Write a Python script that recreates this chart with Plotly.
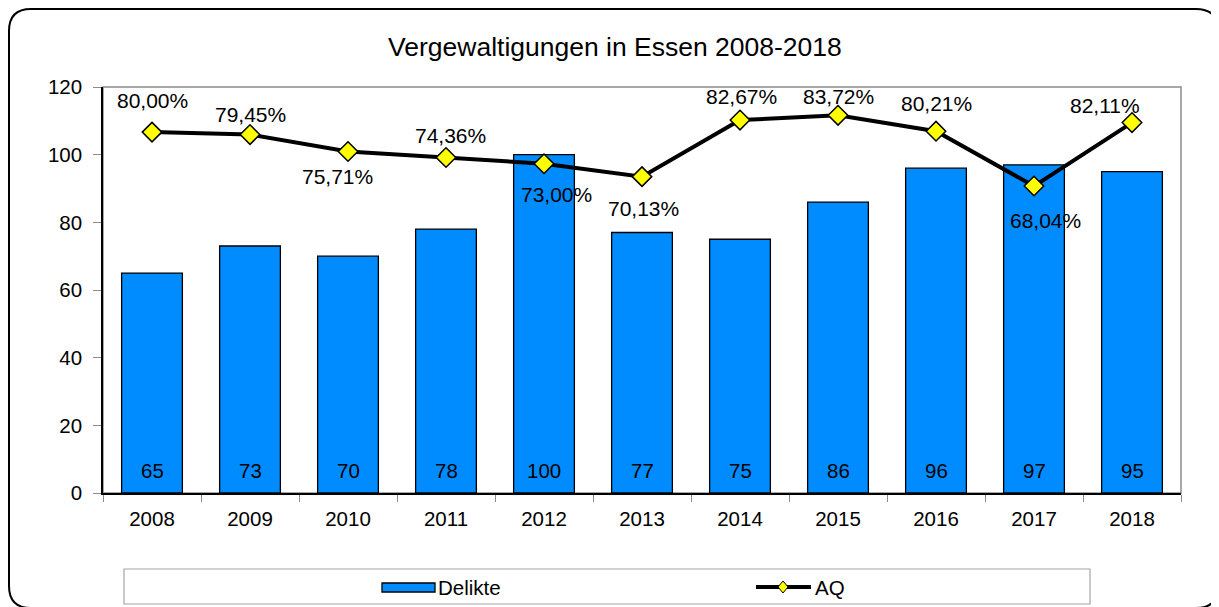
import plotly.graph_objects as go

years = ["2008", "2009", "2010", "2011", "2012", "2013", "2014", "2015", "2016", "2017", "2018"]
delikte = [65, 73, 70, 78, 100, 77, 75, 86, 96, 97, 95]
aq = [80.00, 79.45, 75.71, 74.36, 73.00, 70.13, 82.67, 83.72, 80.21, 68.04, 82.11]

# label placement (pixels) for the AQ labels, as in the reference
aq_label_yshift = [32, 20, -25, 22, -31, -32, 24, 19, 28, -34, 17]
aq_label_xshift = [0, 0, -11, 4, 12, 1, 1, 0, 0, 11, -27]

W, H = 1219, 607
OFF = 8  # page body margin of the rendered page
L, R, T, B = 103, 1181, 87, 493  # plot area in screenshot pixels
FONT = "Liberation Sans, Arial, sans-serif"
BLUE = "#008CFF"


def px(x):
    return (x - L) / (R - L)


def py(y):
    return (B - y) / (B - T)


fig = go.Figure()
fig.add_trace(go.Bar(
    x=years, y=delikte, name="Delikte", width=0.62,
    marker=dict(color=BLUE, line=dict(color="black", width=1.3)),
    showlegend=False,
))
fig.add_trace(go.Scatter(
    x=years, y=aq, name="AQ", yaxis="y2", mode="lines+markers",
    line=dict(color="black", width=4),
    marker=dict(symbol="diamond", size=15, color="#FFFF00", line=dict(color="black", width=1.5)),
    showlegend=False,
))

annotations = []
for i, v in enumerate(delikte):
    annotations.append(dict(x=i, y=0, xref="x", yref="y", text=str(v), showarrow=False,
                            yanchor="middle", yshift=23, font=dict(size=20.5, color="black", family=FONT)))
for i, v in enumerate(aq):
    annotations.append(dict(x=i, y=v, xref="x", yref="y2", text=f"{v:.2f}%".replace(".", ","),
                            showarrow=False, yanchor="middle",
                            yshift=aq_label_yshift[i], xshift=aq_label_xshift[i],
                            font=dict(size=21, color="black", family=FONT)))
# title
annotations.append(dict(x=px(614.5), y=py(47), xref="paper", yref="paper",
                        text="Vergewaltigungen in Essen 2008-2018",
                        showarrow=False, xanchor="center", yanchor="middle",
                        font=dict(size=26.5, color="black", family=FONT)))
# legend texts
annotations.append(dict(x=px(436), y=py(587), xref="paper", yref="paper", text="Delikte", showarrow=False,
                        xanchor="left", yanchor="middle", font=dict(size=20.5, color="black", family=FONT)))
annotations.append(dict(x=px(813), y=py(587), xref="paper", yref="paper", text="AQ", showarrow=False,
                        xanchor="left", yanchor="middle", font=dict(size=20.5, color="black", family=FONT)))

shapes = []
# outer rounded border
x0, y0, x1, y1, r = 9, 9, 1218, 608, 22
path = (f"M {px(x0+r)},{py(y0)} L {px(x1-r)},{py(y0)} Q {px(x1)},{py(y0)} {px(x1)},{py(y0+r)} "
        f"L {px(x1)},{py(y1-r)} Q {px(x1)},{py(y1)} {px(x1-r)},{py(y1)} "
        f"L {px(x0+r)},{py(y1)} Q {px(x0)},{py(y1)} {px(x0)},{py(y1-r)} "
        f"L {px(x0)},{py(y0+r)} Q {px(x0)},{py(y0)} {px(x0+r)},{py(y0)} Z")
shapes.append(dict(type="path", path=path, xref="paper", yref="paper",
                   line=dict(color="black", width=2), layer="below"))
# plot area gray frame (top/right)
shapes.append(dict(type="rect", x0=0, x1=1, y0=0, y1=1, xref="paper", yref="paper",
                   line=dict(color="#8c8c8c", width=1.5), layer="below"))
# legend box
shapes.append(dict(type="rect", x0=px(124), x1=px(1090), y0=py(569), y1=py(604), xref="paper", yref="paper",
                   line=dict(color="#a6a6a6", width=1.2)))
# legend bar symbol
shapes.append(dict(type="rect", x0=px(382), x1=px(435), y0=py(583), y1=py(592), xref="paper", yref="paper",
                   fillcolor=BLUE, line=dict(color="black", width=1.3)))
# legend line symbol
shapes.append(dict(type="line", x0=px(756), x1=px(811), y0=py(587), y1=py(587), xref="paper", yref="paper",
                   line=dict(color="black", width=4)))
cx, cy, d = 783, 587, 5
dpath = f"M {px(cx-d)},{py(cy)} L {px(cx)},{py(cy-d-1)} L {px(cx+d)},{py(cy)} L {px(cx)},{py(cy+d+1)} Z"
shapes.append(dict(type="path", path=dpath, xref="paper", yref="paper", fillcolor="#FFFF00",
                   line=dict(color="black", width=1)))

fig.update_layout(
    width=W, height=H,
    margin=dict(l=L - OFF, r=W - R + OFF, t=T - OFF, b=H - B + OFF, pad=0),
    paper_bgcolor="white", plot_bgcolor="white",
    showlegend=False,
    font=dict(family=FONT, size=20.5, color="black"),
    xaxis=dict(type="category", range=[-0.5, len(years) - 0.5], autorange=False,
               showgrid=False, showline=True, linecolor="black", linewidth=1.5,
               ticks="outside", tickson="boundaries", ticklen=7, tickcolor="#8c8c8c", tickwidth=1,
               tickfont=dict(size=20.5, family=FONT), ticklabelstandoff=7, tickangle=0),
    yaxis=dict(range=[0, 120], dtick=20, showgrid=False, showline=True, linecolor="black", linewidth=1.5,
               ticks="outside", ticklen=8, tickcolor="#8c8c8c", tickwidth=1, zeroline=False,
               tickfont=dict(size=20.5, family=FONT), ticklabelstandoff=7),
    yaxis2=dict(range=[0, 90], overlaying="y", side="right", visible=False, showgrid=False, zeroline=False),
    annotations=annotations,
    shapes=shapes,
)

fig.write_html("out.html")
